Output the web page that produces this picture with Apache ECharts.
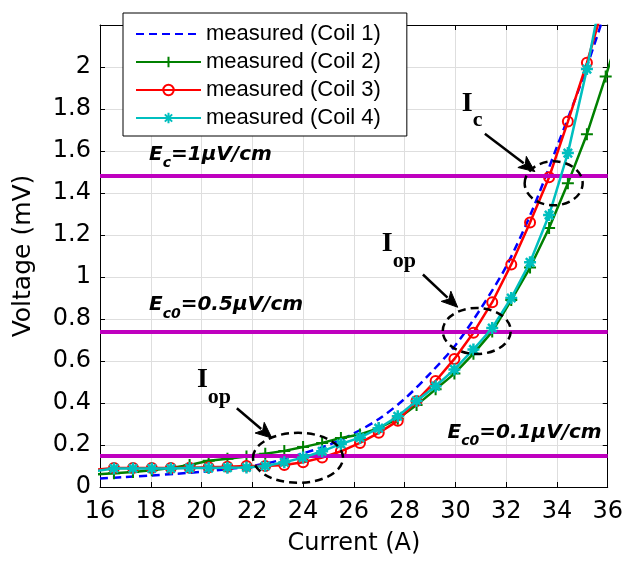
<!DOCTYPE html>
<html><head><meta charset="utf-8">
<script src="https://cdn.jsdelivr.net/npm/echarts@6/dist/echarts.min.js"></script>
<style>html,body{margin:0;padding:0;background:#fff}#c{width:626px;height:561px}</style>
</head><body><div id="c"></div>
<script>
// ---------- data ----------
const seriesNames = ['measured (Coil 1)', 'measured (Coil 2)', 'measured (Coil 3)', 'measured (Coil 4)'];
const currents = [15.81,16.55,17.30,18.04,18.79,19.53,20.28,21.02,21.77,22.51,23.26,24.00,24.75,25.49,26.24,26.98,27.73,28.47,29.22,29.96,30.71,31.45,32.20,32.94,33.69,34.43,35.18,35.92,36.67];
const coil1Current = [16,17,18,19,20,21,22,23,24,25,26,27,28,29,30,31,32,33,34,35,36];
const coil1Voltage = [0.04,0.048,0.055,0.063,0.072,0.085,0.10,0.125,0.16,0.20,0.255,0.325,0.42,0.54,0.675,0.85,1.05,1.31,1.62,1.94,2.30];
const coil2Voltage = [0.06,0.065,0.072,0.08,0.09,0.105,0.125,0.134,0.145,0.158,0.172,0.19,0.21,0.233,0.25,0.28,0.325,0.39,0.465,0.54,0.635,0.74,0.89,1.045,1.233,1.446,1.68,1.955,2.25];
const coil3Voltage = [0.082,0.09,0.09,0.09,0.09,0.092,0.094,0.096,0.10,0.10,0.105,0.118,0.14,0.17,0.21,0.258,0.315,0.41,0.505,0.61,0.735,0.88,1.06,1.26,1.475,1.74,2.02,2.33,2.7];
const coil4Voltage = [0.075,0.088,0.088,0.088,0.088,0.09,0.09,0.092,0.093,0.10,0.118,0.14,0.17,0.205,0.235,0.28,0.337,0.41,0.48,0.56,0.655,0.757,0.90,1.07,1.295,1.59,1.99,2.45,2.9];
const xRange = [16, 36], xStep = 2;
const yRange = [0, 2.2], yStep = 0.2;
const criteriaLevels = [0.148, 0.74, 1.48];
const criteriaLabels = [
  {main: 'E', sub: 'c0', rest: '=0.1\u03BCV/cm'},
  {main: 'E', sub: 'c0', rest: '=0.5\u03BCV/cm'},
  {main: 'E', sub: 'c', rest: '=1\u03BCV/cm'}
];
// annotation anchors in data units (current A, voltage mV)
const criteriaLabelAnchors = [[35.76, 0.229, 'right'], [17.93, 0.837, 'left'], [17.93, 1.554, 'left']];
const currentLabels = [
  {main: 'I', sub: 'c', at: [30.25, 1.785]},
  {main: 'I', sub: 'op', at: [27.10, 1.116]},
  {main: 'I', sub: 'op', at: [19.82, 0.469]}
];
const arrowEnds = [
  [[31.16, 1.682], [33.13, 1.502]],
  [[28.72, 1.012], [30.09, 0.856]],
  [[21.39, 0.375], [22.77, 0.233]]
];
const ellipseCentres = [[33.87, 1.446], [30.84, 0.743], [23.80, 0.139]];
const ellipseRadiiPx = [[29, 22], [34, 23], [45, 25]];

// ---------- styles ----------
const SANS = '"Liberation Sans", Arial, Helvetica, sans-serif';
const WIDE = '"DejaVu Sans", Verdana, sans-serif';
const SERIF = '"Liberation Serif", "Times New Roman", serif';
const colors = ['#0000FF', '#008000', '#FF0000', '#00BFBF'];
const MAGENTA = '#BF00BF';
const plusPath = 'path://M5,0 L5,10 M0,5 L10,5';
const starPath = 'path://M5,0 L5,10 M0,5 L10,5 M1.5,1.5 L8.5,8.5 M1.5,8.5 L8.5,1.5';

const zip = (xs, ys) => xs.map((x, i) => [x, ys[i]]);

const chart = echarts.init(document.getElementById('c'), null, {renderer: 'canvas'});

const axisCommon = {
  type: 'value',
  axisLine: {show: true, onZero: false, lineStyle: {color: '#000', width: 1}},
  axisTick: {show: true, inside: true, length: 5, lineStyle: {color: '#000', width: 1}}
};

const option = {
  animation: false,
  backgroundColor: '#fff',
  grid: {left: 100, right: 18, top: 25, bottom: 70, containLabel: false},
  xAxis: [
    Object.assign({}, axisCommon, {
      position: 'bottom', min: xRange[0], max: xRange[1], interval: xStep,
      axisLabel: {fontSize: 24, color: '#000', fontFamily: WIDE, margin: 13},
      splitLine: {show: true, lineStyle: {color: '#dedede', width: 1}},
      name: 'Current (A)', nameLocation: 'middle', nameGap: 45,
      nameTextStyle: {fontSize: 24, color: '#000', fontFamily: WIDE}
    }),
    Object.assign({}, axisCommon, {
      position: 'top', min: xRange[0], max: xRange[1], interval: xStep,
      axisLabel: {show: false}, splitLine: {show: false}
    })
  ],
  yAxis: [
    Object.assign({}, axisCommon, {
      position: 'left', min: yRange[0], max: yRange[1], interval: yStep,
      axisLabel: {fontSize: 24, color: '#000', fontFamily: WIDE, margin: 9, showMaxLabel: false},
      splitLine: {show: true, lineStyle: {color: '#dedede', width: 1}},
      name: 'Voltage (mV)', nameLocation: 'middle', nameGap: 64,
      nameTextStyle: {fontSize: 25, color: '#000', fontFamily: WIDE}
    }),
    Object.assign({}, axisCommon, {
      position: 'right', min: yRange[0], max: yRange[1], interval: yStep,
      axisLabel: {show: false}, splitLine: {show: false}
    })
  ],
  legend: {
    data: [
      {name: seriesNames[0], itemStyle: {opacity: 0}},
      seriesNames[1], seriesNames[2], seriesNames[3]
    ],
    orient: 'vertical', left: 123, top: 13,
    backgroundColor: '#fff', borderColor: '#000', borderWidth: 1, borderRadius: 0,
    padding: [10, 26, 7, 12],
    itemWidth: 65, itemHeight: 13, itemGap: 6, itemTextGap: 12,
    textStyle: {fontSize: 22, color: '#000', fontFamily: SANS, lineHeight: 22},
    z: 10
  },
  series: [
    {
      name: 'criteria', type: 'line', data: [], silent: true, z: 1,
      markLine: {
        silent: true, symbol: ['none', 'none'], animation: false,
        label: {show: false},
        lineStyle: {color: MAGENTA, width: 4, type: 'solid'},
        emphasis: {disabled: true},
        data: criteriaLevels.map(v => ({yAxis: v}))
      }
    },
    {
      name: seriesNames[0], type: 'line', data: zip(coil1Current, coil1Voltage),
      symbol: 'none', smooth: 0.3, clip: true, z: 2,
      lineStyle: {color: colors[0], width: 2.5, type: [8, 5]},
      itemStyle: {color: colors[0]}
    },
    {
      name: seriesNames[1], type: 'line', data: zip(currents, coil2Voltage),
      symbol: plusPath, symbolSize: 12, clip: true, z: 3,
      lineStyle: {color: colors[1], width: 2.5},
      itemStyle: {color: colors[1], borderColor: colors[1], borderWidth: 2}
    },
    {
      name: seriesNames[2], type: 'line', data: zip(currents, coil3Voltage),
      symbol: 'circle', symbolSize: 10, clip: true, z: 4,
      lineStyle: {color: colors[2], width: 2.5},
      itemStyle: {color: 'rgba(255,255,255,0)', borderColor: colors[2], borderWidth: 2}
    },
    {
      name: seriesNames[3], type: 'line', data: zip(currents, coil4Voltage),
      symbol: starPath, symbolSize: 12, clip: true, z: 5,
      lineStyle: {color: colors[3], width: 2.5},
      itemStyle: {color: colors[3], borderColor: colors[3], borderWidth: 2.5}
    }
  ]
};
chart.setOption(option);

// ---------- annotations ----------
const mctx = document.createElement('canvas').getContext('2d');
function measure(text, font) { mctx.font = font; return mctx.measureText(text).width; }
function toPx(p) { return chart.convertToPixel({xAxisIndex: 0, yAxisIndex: 0}, p); }
function textEl(text, font, size, x, baseline) {
  return {
    type: 'text', z: 100, silent: true, x: x, y: baseline - 0.3 * size,
    style: {text: text, font: font, fill: '#000', align: 'left', verticalAlign: 'middle',
            textAlign: 'left', textVerticalAlign: 'middle'}
  };
}
function richRow(parts, x, baseline, align) {
  const widths = parts.map(p => measure(p.t, p.font));
  const total = widths.reduce((a, b) => a + b, 0);
  let cx = align === 'right' ? x - total : x;
  const els = [];
  parts.forEach((p, i) => {
    els.push(textEl(p.t, p.font, p.size, cx, baseline + (p.dy || 0)));
    cx += widths[i];
  });
  return els;
}
function drawAnnotations() {
  const els = [];
  const eMain = 'italic bold 20px ' + WIDE, eSub = 'italic bold 14px ' + WIDE;
  criteriaLabels.forEach((lab, i) => {
    const a = criteriaLabelAnchors[i];
    const p = toPx([a[0], a[1]]);
    els.push(...richRow([
      {t: lab.main, font: eMain, size: 20},
      {t: lab.sub, font: eSub, size: 14, dy: 7},
      {t: lab.rest, font: eMain, size: 20}
    ], p[0], p[1], a[2]));
  });
  const iMain = 'bold 28px ' + SERIF, iSub = 'bold 22px ' + SERIF;
  currentLabels.forEach(lab => {
    const p = toPx(lab.at);
    els.push(...richRow([
      {t: lab.main, font: iMain, size: 28},
      {t: lab.sub, font: iSub, size: 22, dy: 15}
    ], p[0], p[1], 'left'));
  });
  arrowEnds.forEach(([f, t]) => {
    const a = toPx(f), b = toPx(t);
    const dx = b[0] - a[0], dy = b[1] - a[1];
    const L = Math.hypot(dx, dy), ux = dx / L, uy = dy / L;
    const hl = 16, hw = 7;
    const bx = b[0] - ux * hl, by = b[1] - uy * hl;
    els.push({type: 'line', z: 100, silent: true,
      shape: {x1: a[0], y1: a[1], x2: bx + ux * 2, y2: by + uy * 2},
      style: {stroke: '#000', lineWidth: 2.5}});
    els.push({type: 'polygon', z: 100, silent: true,
      shape: {points: [[b[0], b[1]], [bx - uy * hw, by + ux * hw], [bx + ux * 4, by + uy * 4], [bx + uy * hw, by - ux * hw]]},
      style: {fill: '#000', stroke: '#000', lineWidth: 1}});
  });
  ellipseCentres.forEach((c, i) => {
    const p = toPx(c);
    els.push({type: 'ellipse', z: 100, silent: true,
      shape: {cx: p[0], cy: p[1], rx: ellipseRadiiPx[i][0], ry: ellipseRadiiPx[i][1]},
      style: {fill: 'none', stroke: '#000', lineWidth: 2.5, lineDash: [8, 5]}});
  });
  chart.setOption({graphic: els});
}
drawAnnotations();
</script>
</body></html>
